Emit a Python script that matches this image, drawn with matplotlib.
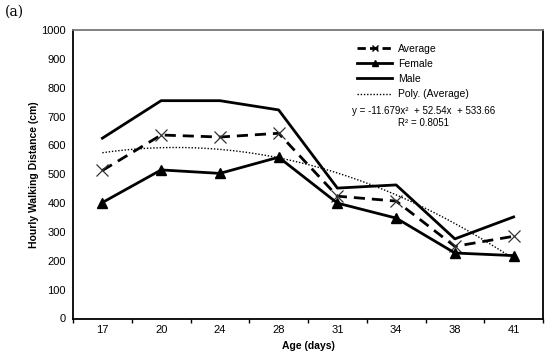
import numpy as np
import matplotlib.pyplot as plt
from matplotlib.lines import Line2D

plt.rcParams['font.family'] = ['Liberation Sans', 'DejaVu Sans']

# Hourly walking distance by age
ages = ['17', '20', '24', '28', '31', '34', '38', '41']
average = [513, 636, 629, 642, 424, 407, 250, 285]
female = [402, 515, 503, 559, 400, 348, 227, 218]
male = [625, 755, 755, 723, 452, 463, 276, 352]
# Excel 2nd order polynomial trendline of Average (from the label)
poly_coef = [-11.679, 52.54, 533.66]

x = np.arange(len(ages)) + 0.5

fig = plt.figure(figsize=(5.5, 3.57), dpi=100)
ax = fig.add_axes([73 / 550, 1 - 318.5 / 357, 470 / 550, 288.5 / 357])

ax.plot(x, average, color='black', lw=2, ls=(0, (4, 2.5)), marker='x',
        markersize=8, markeredgewidth=0.9, markeredgecolor='#333333')
ax.plot(x, female, color='black', lw=2, marker='^', markersize=7)
ax.plot(x, male, color='black', lw=2)

xs = np.linspace(1, len(ages), 100)
ax.plot(xs - 0.5, np.polyval(poly_coef, xs), color='black', lw=1, ls=(0, (1, 1.3)))

ax.set_xlim(0, len(ages))
ax.set_ylim(0, 1000)
ax.set_yticks(range(0, 1001, 100))
ax.tick_params(axis='y', length=0, labelsize=8, pad=5)
ax.set_xticks(range(0, len(ages) + 1))
ax.set_xticklabels([])
ax.set_xticks(x, minor=True)
ax.set_xticklabels(ages, minor=True)
ax.tick_params(axis='x', which='major', direction='out', length=3, width=1)
ax.tick_params(axis='x', which='minor', length=0, labelsize=8, pad=5)
for s in ax.spines.values():
    s.set_linewidth(1.3)
ax.spines['top'].set_color('#777777')

ax.set_xlabel('Age (days)', fontsize=7.5, fontweight='bold', labelpad=4)
ax.set_ylabel('Hourly Walking Distance (cm)', fontsize=7.5, fontweight='bold', labelpad=2)

handles = [
    Line2D([], [], color='black', lw=2, ls=(0, (3, 1.5)), marker='x', markersize=5),
    Line2D([], [], color='black', lw=2, marker='^', markersize=4),
    Line2D([], [], color='black', lw=2),
    Line2D([], [], color='black', lw=1, ls=(0, (1, 1.3))),
]
ax.legend(handles, ['Average', 'Female', 'Male', 'Poly. (Average)'],
          loc='upper left', bbox_to_anchor=(0.585, 0.985), frameon=False,
          fontsize=7.5, handlelength=3.3, handletextpad=0.6, labelspacing=0.5)

ax.text(0.745, 0.72, 'y = -11.679x²  + 52.54x  + 533.66',
        transform=ax.transAxes, ha='center', va='center', fontsize=7)
ax.text(0.745, 0.677, 'R² = 0.8051',
        transform=ax.transAxes, ha='center', va='center', fontsize=7)

fig.text(5 / 550, 1 - 12 / 357, '(a)', fontsize=10, family='DejaVu Serif',
         va='center', ha='left')

fig.savefig('out.png', dpi=100)
